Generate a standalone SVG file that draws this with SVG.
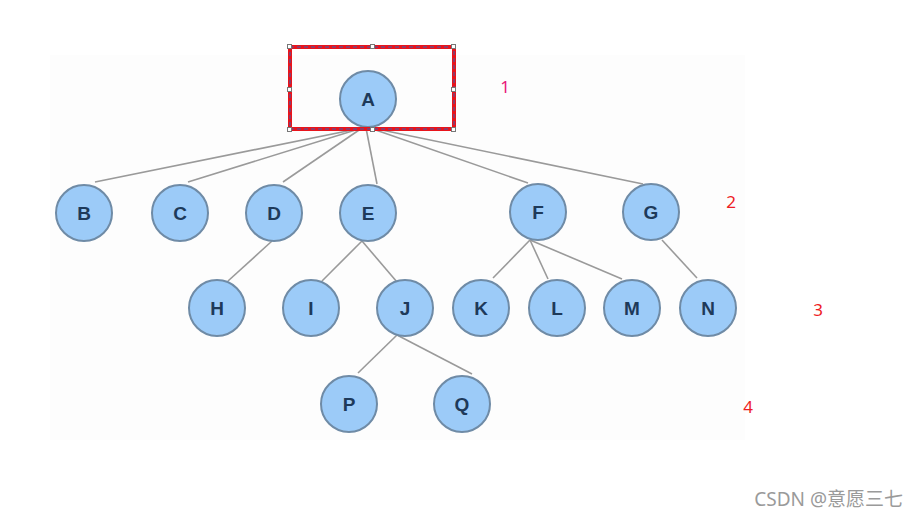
<svg xmlns="http://www.w3.org/2000/svg" width="917" height="517" viewBox="0 0 917 517">
<style>
.n circle{fill:#9ccbf8;stroke:#6f8ba6;stroke-width:2}
.n text{font-family:"Liberation Sans",Arial,sans-serif;font-weight:bold;font-size:19px;fill:#1e3a5a;text-anchor:middle}
.e line{stroke:#9a9a9a;stroke-width:1.6}
.lvl{font-family:"Noto Sans","Liberation Sans",sans-serif;font-size:17px;fill:#ee1c24}
.h{fill:#fff;stroke:#777;stroke-width:1}
</style>
<rect width="917" height="517" fill="#fff"/>
<rect x="50" y="55" width="695" height="385" fill="#fdfdfd"/>
<g id="connectors" class="e">
<line x1="362" y1="128" x2="95" y2="182"/>
<line x1="362" y1="128" x2="188" y2="182"/>
<line x1="362" y1="128" x2="283" y2="182"/>
<line x1="366" y1="128" x2="377" y2="184"/>
<line x1="370" y1="128" x2="528" y2="183"/>
<line x1="372" y1="128" x2="643" y2="184"/>
<line x1="272" y1="241" x2="228" y2="281"/>
<line x1="362" y1="241" x2="322" y2="281"/>
<line x1="362" y1="241" x2="397" y2="282"/>
<line x1="530" y1="240" x2="493" y2="278"/>
<line x1="530" y1="240" x2="548" y2="279"/>
<line x1="530" y1="240" x2="622" y2="279"/>
<line x1="662" y1="240" x2="697" y2="278"/>
<line x1="397" y1="335" x2="358" y2="373"/>
<line x1="397" y1="335" x2="472" y2="374"/>
</g>
<g id="A" class="n"><circle cx="368" cy="99" r="28"/><text x="368" y="106">A</text></g>
<g id="B" class="n"><circle cx="84" cy="213" r="28"/><text x="84" y="220">B</text></g>
<g id="C" class="n"><circle cx="180" cy="213" r="28"/><text x="180" y="220">C</text></g>
<g id="D" class="n"><circle cx="274" cy="213" r="28"/><text x="274" y="220">D</text></g>
<g id="E" class="n"><circle cx="368" cy="213" r="28"/><text x="368" y="220">E</text></g>
<g id="F" class="n"><circle cx="538" cy="212" r="28"/><text x="538" y="219">F</text></g>
<g id="G" class="n"><circle cx="651" cy="212" r="28"/><text x="651" y="219">G</text></g>
<g id="H" class="n"><circle cx="217" cy="308" r="28"/><text x="217" y="315">H</text></g>
<g id="I" class="n"><circle cx="311" cy="308" r="28"/><text x="311" y="315">I</text></g>
<g id="J" class="n"><circle cx="405" cy="308" r="28"/><text x="405" y="315">J</text></g>
<g id="K" class="n"><circle cx="481" cy="308" r="28"/><text x="481" y="315">K</text></g>
<g id="L" class="n"><circle cx="557" cy="308" r="28"/><text x="557" y="315">L</text></g>
<g id="M" class="n"><circle cx="632" cy="308" r="28"/><text x="632" y="315">M</text></g>
<g id="N" class="n"><circle cx="708" cy="308" r="28"/><text x="708" y="315">N</text></g>
<g id="P" class="n"><circle cx="349" cy="404" r="28"/><text x="349" y="411">P</text></g>
<g id="Q" class="n"><circle cx="462" cy="404" r="28"/><text x="462" y="411">Q</text></g>
<g id="selection">
<rect x="290" y="47" width="164" height="82" fill="none" stroke="#e8141c" stroke-width="4"/>
<rect x="290" y="47" width="164" height="82" fill="none" stroke="#3a5fb0" stroke-width="1" stroke-dasharray="4 3"/>
<rect class="h" x="287.5" y="44.5" width="4" height="4"/>
<rect class="h" x="370.5" y="44.5" width="4" height="4"/>
<rect class="h" x="451.5" y="44.5" width="4" height="4"/>
<rect class="h" x="287.5" y="87.5" width="4" height="4"/>
<rect class="h" x="451.5" y="87.5" width="4" height="4"/>
<rect class="h" x="287.5" y="127.5" width="4" height="4"/>
<rect class="h" x="370.5" y="127.5" width="4" height="4"/>
<rect class="h" x="451.5" y="127.5" width="4" height="4"/>
</g>
<text class="lvl" x="505" y="93" text-anchor="middle" style="fill:#e8187a">1</text>
<text class="lvl" x="731" y="208" text-anchor="middle">2</text>
<text class="lvl" x="818" y="316" text-anchor="middle">3</text>
<text class="lvl" x="748" y="413" text-anchor="middle">4</text>
<text x="903" y="506" text-anchor="end" font-family="'Noto Sans','Noto Sans CJK SC',sans-serif" font-size="19" fill="#9a9a9a">CSDN @意愿三七</text>
</svg>
